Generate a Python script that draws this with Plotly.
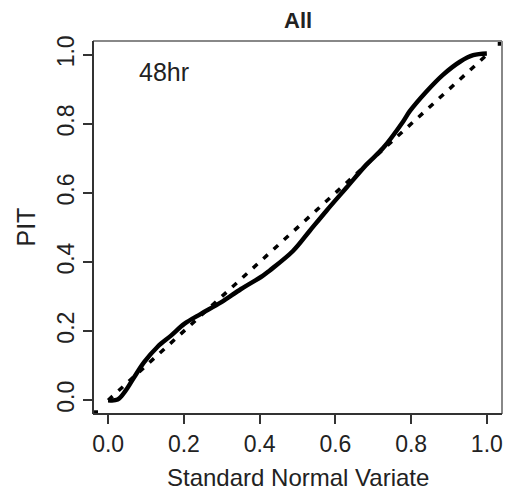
import plotly.graph_objects as go

# PIT curve (solid)
pit_x = [0.0, 0.025, 0.047, 0.069, 0.095, 0.130, 0.166, 0.201, 0.245, 0.298, 0.351,
         0.408, 0.426, 0.488, 0.532, 0.576, 0.629, 0.682, 0.726, 0.779, 0.796, 0.840,
         0.884, 0.929, 0.964, 1.0]
pit_y = [0.0, 0.002, 0.029, 0.067, 0.110, 0.154, 0.187, 0.221, 0.250, 0.283, 0.322,
         0.360, 0.375, 0.432, 0.490, 0.548, 0.615, 0.682, 0.730, 0.807, 0.836, 0.893,
         0.942, 0.980, 0.999, 1.004]
# reference diagonal (dashed)
diag_x = [0.0, 1.0]
diag_y = [0.0, 1.0]
# corner points
corner_x = [-0.032, 1.034]
corner_y = [-0.035, 1.032]

tick_vals = [0.0, 0.2, 0.4, 0.6, 0.8, 1.0]
tick_text = ["0.0", "0.2", "0.4", "0.6", "0.8", "1.0"]

FONT = "Liberation Sans, Arial, sans-serif"

fig = go.Figure()
fig.add_trace(go.Scatter(x=diag_x, y=diag_y, mode="lines",
                         line=dict(color="black", width=3.5, dash="6px,8px")))
fig.add_trace(go.Scatter(x=pit_x, y=pit_y, mode="lines",
                         line=dict(color="black", width=4.5, shape="spline")))
fig.add_trace(go.Scatter(x=corner_x, y=corner_y, mode="markers",
                         marker=dict(color="black", size=4, symbol="square")))

axis_common = dict(range=[-0.04, 1.04], showgrid=False, zeroline=False,
                   tickvals=tick_vals, ticktext=tick_text, ticks="outside",
                   ticklen=9, tickwidth=1.5, tickcolor="#333",
                   tickfont=dict(family=FONT, size=23, color="#222"),
                   showline=False)

fig.update_layout(
    width=507, height=492,
    margin=dict(l=93, r=5, t=41, b=78),
    paper_bgcolor="white", plot_bgcolor="white",
    showlegend=False,
    xaxis=dict(**axis_common),
    yaxis=dict(**axis_common, tickangle=-90),
    shapes=[
        dict(type="line", xref="paper", yref="paper", x0=0, x1=1, y0=1, y1=1,
             line=dict(color="#888", width=2)),
        dict(type="line", xref="paper", yref="paper", x0=1, x1=1, y0=0, y1=1,
             line=dict(color="#888", width=2)),
        dict(type="line", xref="paper", yref="paper", x0=0, x1=1, y0=0, y1=0,
             line=dict(color="#333", width=2)),
        dict(type="line", xref="paper", yref="paper", x0=0, x1=0, y0=0, y1=1,
             line=dict(color="#333", width=2)),
    ],
    annotations=[
        dict(text="<b>All</b>", xref="paper", yref="paper", x=0.5, y=1,
             yanchor="middle", yshift=21, showarrow=False,
             font=dict(family=FONT, size=22, color="#222")),
        dict(text="Standard Normal Variate", xref="paper", yref="paper", x=0.5, y=0,
             yanchor="middle", yshift=-63, showarrow=False,
             font=dict(family=FONT, size=24, color="#222")),
        dict(text="PIT", xref="paper", yref="paper", x=0, y=0.5, xanchor="center",
             xshift=-68, textangle=-90, showarrow=False,
             font=dict(family=FONT, size=25, color="#222")),
        dict(text="48hr", xref="paper", yref="paper", x=0.107, y=0.917,
             xanchor="left", yanchor="middle", showarrow=False,
             font=dict(family=FONT, size=25, color="#222")),
    ],
)

fig.write_html("out.html")
